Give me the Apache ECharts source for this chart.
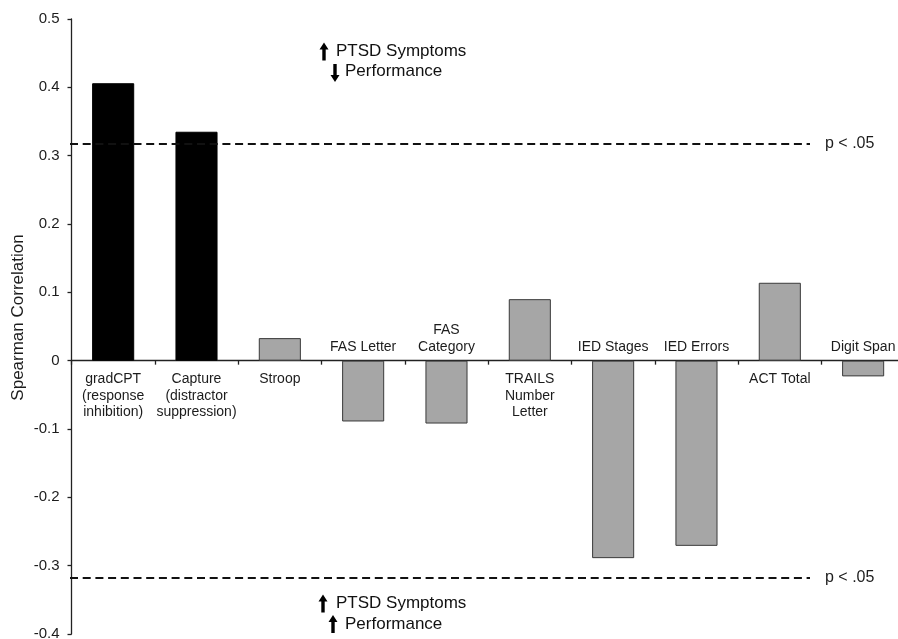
<!DOCTYPE html>
<html>
<head>
<meta charset="utf-8">
<script src="https://cdn.jsdelivr.net/npm/echarts@6/dist/echarts.min.js"></script>
<style>
html,body{margin:0;padding:0;background:#fff;}
#chart{width:898px;height:639px;}
</style>
</head>
<body>
<div id="chart"></div>
<script>
// ---- data ----
var categories = [
  'gradCPT\n(response\ninhibition)',
  'Capture\n(distractor\nsuppression)',
  'Stroop',
  'FAS Letter',
  'FAS\nCategory',
  'TRAILS\nNumber\nLetter',
  'IED Stages',
  'IED Errors',
  'ACT Total',
  'Digit Span'
];
var correlations = [0.406, 0.335, 0.033, -0.089, -0.092, 0.090, -0.289, -0.271, 0.114, -0.023];
var attentionTask = [true, true, false, false, false, false, false, false, false, false];
var significanceThreshold = [0.318, -0.318];
var thresholdLabel = 'p < .05';
var yTicks = { min: -0.4, max: 0.5, step: 0.1 };
var yAxisTitle = 'Spearman Correlation';
var topNote = ['PTSD Symptoms', 'Performance'];
var bottomNote = ['PTSD Symptoms', 'Performance'];

// ---- chart ----
var FONT = '"Liberation Sans", Arial, Helvetica, sans-serif';
var TXT = '#1c1c1c';

var barData = correlations.map(function (v, i) {
  return {
    value: v,
    itemStyle: attentionTask[i]
      ? { color: '#000000', borderColor: '#000000', borderWidth: 1 }
      : { color: '#a6a6a6', borderColor: '#3a3a3a', borderWidth: 1 },
    label: {
      position: v >= 0 ? 'bottom' : 'top',
      distance: v >= 0 ? 10.5 : 5.5
    }
  };
});

var markLineData = significanceThreshold.map(function (t) {
  return [
    { xAxis: 0, yAxis: t, x: 70 },
    { xAxis: categories.length - 1, yAxis: t, x: 810 }
  ];
});

function noteText(x, y, text) {
  return {
    type: 'text',
    x: x, y: y,
    silent: true,
    style: {
      text: text,
      fill: '#111',
      font: '17px ' + FONT,
      align: 'left',
      verticalAlign: 'middle',
      textAlign: 'left',
      textVerticalAlign: 'middle'
    }
  };
}
// bold block arrow drawn as a polygon (decoration only)
function arrow(cx, cy, up) {
  var h = 18, hw = 4.5, hh = 7, sw = 1.7;
  var t = -h / 2, b = h / 2;
  var pts = [
    [0, t], [hw, t + hh], [sw, t + hh], [sw, b], [-sw, b], [-sw, t + hh], [-hw, t + hh]
  ];
  if (!up) pts = pts.map(function (p) { return [p[0], -p[1]]; });
  return {
    type: 'polygon',
    x: cx, y: cy,
    silent: true,
    shape: { points: pts },
    style: { fill: '#000' }
  };
}

var chart = echarts.init(document.getElementById('chart'), null, { renderer: 'canvas' });
chart.setOption({
  animation: false,
  backgroundColor: '#ffffff',
  grid: { left: 71.5, right: -6.8, top: 19, bottom: 5, containLabel: false, outerBoundsMode: 'none' },
  xAxis: {
    type: 'category',
    data: categories,
    boundaryGap: true,
    axisLine: { show: true, onZero: true, lineStyle: { color: '#222', width: 1.3 } },
    axisTick: { show: true, length: 4, interval: 0, lineStyle: { color: '#222', width: 1.3 } },
    axisLabel: { show: false },
    splitLine: { show: false }
  },
  yAxis: {
    type: 'value',
    min: yTicks.min,
    max: yTicks.max,
    interval: yTicks.step,
    name: yAxisTitle,
    nameLocation: 'middle',
    nameRotate: 90,
    nameGap: 45,
    nameMoveOverlap: false,
    nameTextStyle: { fontFamily: FONT, fontSize: 17, color: TXT, padding: [0, 0, 0, 18] },
    axisLine: { show: true, lineStyle: { color: '#222', width: 1.3 } },
    axisTick: { show: true, length: 4, lineStyle: { color: '#222', width: 1.3 } },
    axisLabel: { fontFamily: FONT, fontSize: 15, color: TXT, margin: 12,
      formatter: function (v) { return String(Math.round(v * 10) / 10); } },
    splitLine: { show: false }
  },
  series: [{
    type: 'bar',
    data: barData,
    barWidth: '50.5%',
    label: {
      show: true,
      formatter: function (p) { return categories[p.dataIndex]; },
      fontFamily: FONT,
      fontSize: 14,
      lineHeight: 16.5,
      color: TXT,
      align: 'center'
    },
    markLine: {
      silent: true,
      symbol: ['none', 'none'],
      lineStyle: { type: [8, 4.7], color: '#111', width: 2.2 },
      label: {
        show: true,
        position: 'end',
        distance: 15,
        formatter: thresholdLabel,
        fontFamily: FONT,
        fontSize: 16,
        color: TXT
      },
      emphasis: { disabled: true },
      data: markLineData
    }
  }],
  graphic: [
    arrow(324, 51.5, true),
    noteText(336, 51, topNote[0]),
    arrow(335, 73, false),
    noteText(345, 71, topNote[1]),
    arrow(323, 603.5, true),
    noteText(336, 603.5, bottomNote[0]),
    arrow(333, 624, true),
    noteText(345, 624, bottomNote[1])
  ]
});
</script>
</body>
</html>
